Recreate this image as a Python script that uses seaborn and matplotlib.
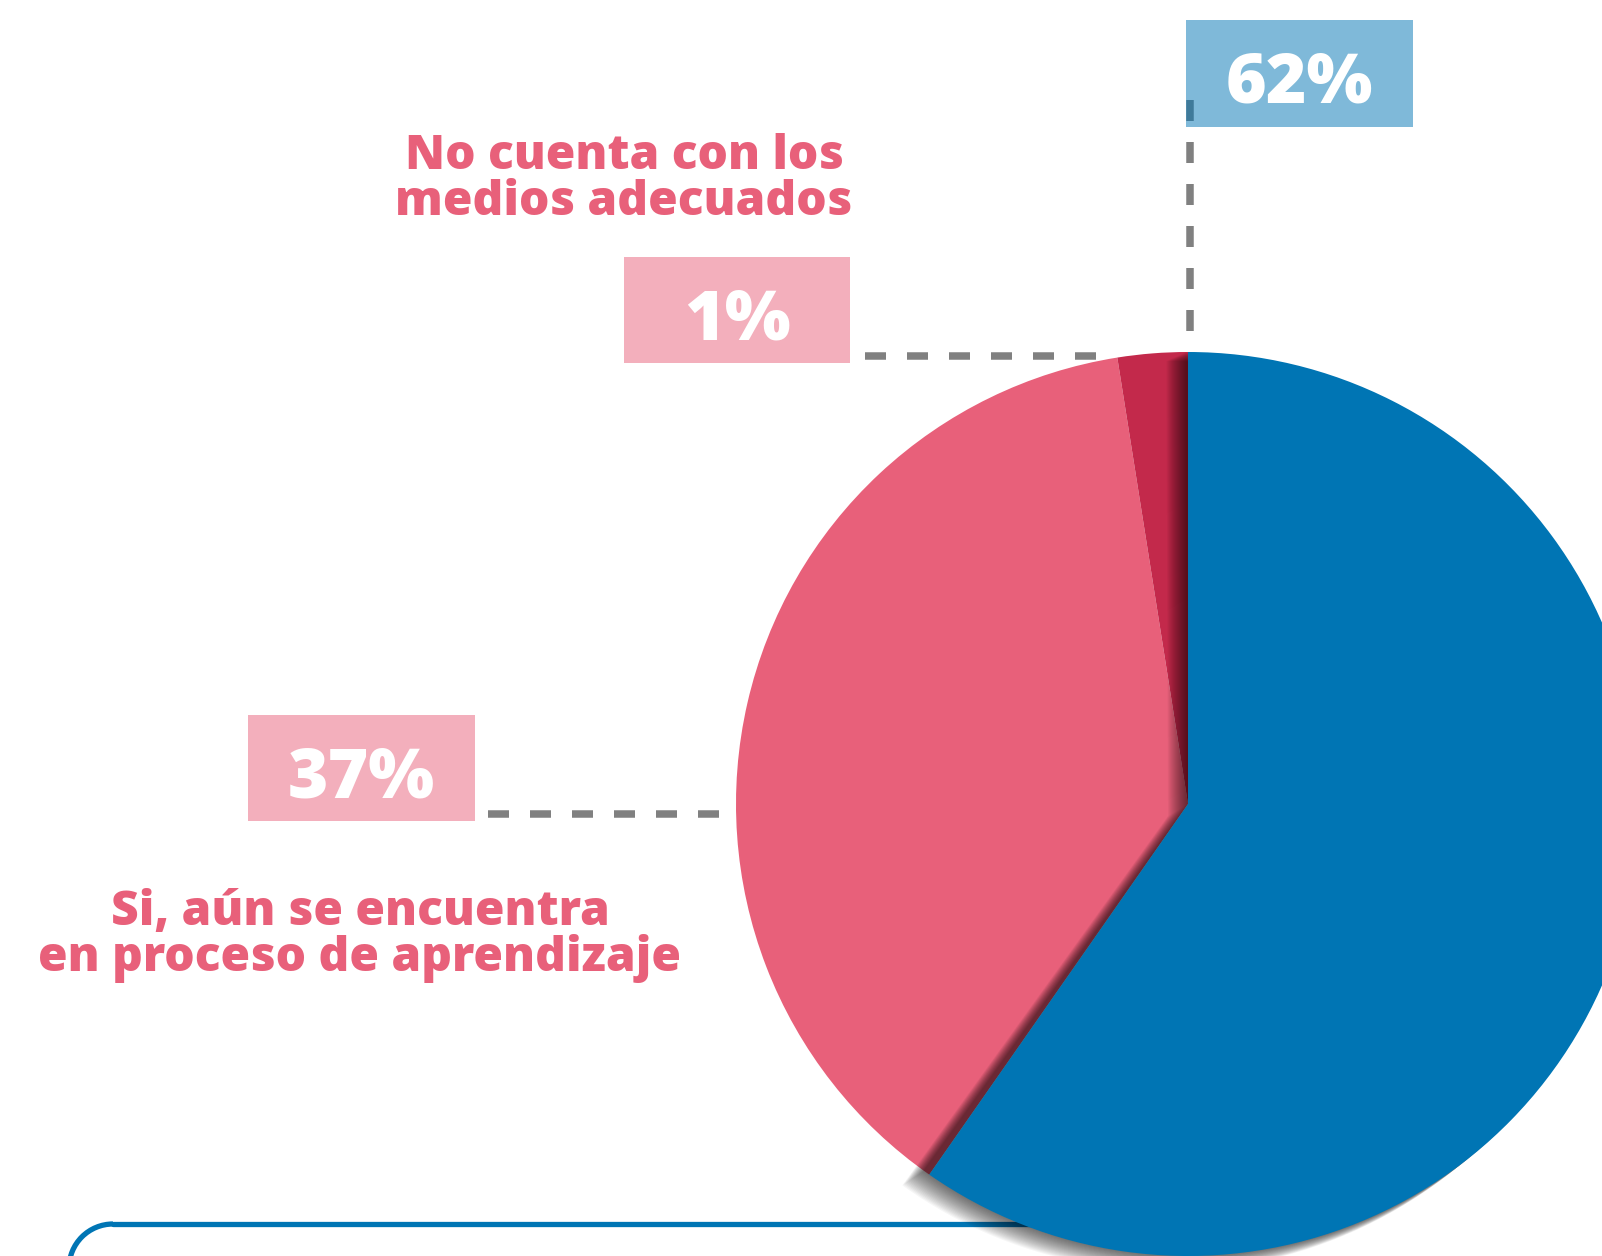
import matplotlib
matplotlib.use("Agg")
import matplotlib.pyplot as plt
import seaborn as sns
from matplotlib.patches import Wedge, Rectangle, Arc

# slice shares as drawn in the picture (blue, pink, dark red)
shares = [59.7, 37.8, 2.5]
labels = ["62%", "37%", "1%"]
colors = ["#0075B4", "#E8607A", "#C3294B"]
captions = ["No cuenta con los\nmedios adecuados", "Si, aún se encuentra\nen proceso de aprendizaje"]

W, H = 1602, 1256
sns.set_theme(style="white")
plt.rcParams['font.family'] = ['Open Sans', 'DejaVu Sans']

fig = plt.figure(figsize=(W / 100, H / 100), dpi=100)
ax = fig.add_axes([0, 0, 1, 1])

cx, cy, R = 1188, 804, 452

# rounded frame line at the bottom (runs in under the pie)
rc = 44
ax.add_patch(Arc((69 + rc, 1224 + rc), 2 * rc, 2 * rc, theta1=180, theta2=270,
                 edgecolor="#0075B4", linewidth=3.8, zorder=1))
ax.plot([69 + rc, 1150], [1224, 1224], color="#0075B4", linewidth=3.8, zorder=1)
ax.plot([69, 69], [1224 + rc, 1300], color="#0075B4", linewidth=3.8, zorder=1)

# y axis goes downward -> counterclock in data looks clockwise on screen
wedges, _ = ax.pie(shares, colors=colors, startangle=270, counterclock=True,
                   center=(cx, cy), radius=R, wedgeprops=dict(linewidth=0))
for w in wedges:
    w.set_zorder(3)
wedges[0].set_zorder(6)

# soft shadow of the blue slice, falling to the left and down
blue = wedges[0]
n = 20
for k in range(n):
    f = (k + 1) / n
    sh = Wedge((cx - 20 * f, cy + 12 * f), R + 3 * f, blue.theta1 - 0.2, blue.theta2 + 0.8,
               facecolor="black", edgecolor="none", alpha=0.035, zorder=4)
    ax.add_patch(sh)

# label boxes (slice colour at half opacity) and dashed leaders
boxes = [(1186, 20, 227, 107), (248, 715, 227, 106), (624, 257, 226, 106)]
box_colors = [colors[0], colors[1], colors[1]]
dash_kw = dict(color="#808080", linewidth=5.4, dashes=(2.8, 2.8), solid_capstyle="butt")
ax.plot([1190, 1190], [100, 350], zorder=2, **dash_kw)
ax.plot([488, 737], [814, 814], zorder=2, **dash_kw)
ax.plot([865, 1117], [356, 356], zorder=2, **dash_kw)

for (x, y, w, h), c, lab in zip(boxes, box_colors, labels):
    ax.add_patch(Rectangle((x, y), w, h, facecolor=c, alpha=0.5, edgecolor="none", zorder=7))
    ax.text(x + w / 2, y + h / 2 + 11, lab, color="white", fontsize=50, fontweight="heavy",
            ha="center", va="center", zorder=8)

ax.text(624, 180, captions[0], color="#E8607A", fontsize=34.5, fontweight="heavy",
        ha="center", va="center", linespacing=0.92, zorder=8)
ax.text(360, 936, captions[1], color="#E8607A", fontsize=34.5, fontweight="heavy",
        ha="center", va="center", linespacing=0.92, zorder=8)

ax.set_xlim(0, W)
ax.set_ylim(H, 0)
ax.set_aspect("equal")
ax.axis("off")
fig.savefig("out.png", dpi=100, facecolor="white")
